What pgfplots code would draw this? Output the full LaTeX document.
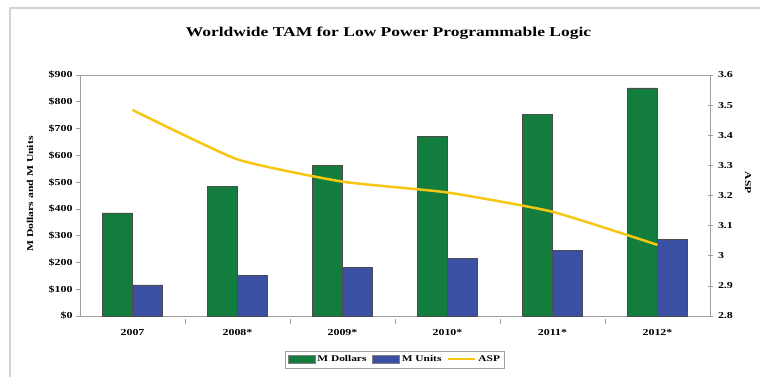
\documentclass[border=0pt]{standalone}
\usepackage{pgfplots}
\pgfplotsset{compat=1.18}
\usepackage{fontspec}
\setmainfont{Liberation Serif}[FakeStretch=1.3]
\definecolor{gbar}{HTML}{127D3C}
\definecolor{bbar}{HTML}{3B4FA3}
\definecolor{yline}{HTML}{F7C613}
\definecolor{axgray}{HTML}{A0A0A0}
\begin{document}
\begin{tikzpicture}
\useasboundingbox (-80bp,-61bp) rectangle (680bp,316bp);
\draw[gray!35, line width=1.2bp] (-70bp,-61bp) -- (-70bp,308bp) -- (680bp,308bp);
\begin{axis}[
  at={(0,0)}, anchor=south west,
  scale only axis, width=630bp, height=241bp,
  xmin=-0.5, xmax=5.5, ymin=0, ymax=900,
  axis line style={axgray, line width=0.8bp},
  xtick={0,1,2,3,4,5},
  xticklabels={2007,2008*,2009*,2010*,2011*,2012*},
  minor xtick={0.5,1.5,2.5,3.5,4.5},
  major x tick style={draw=none},
  minor tick length=5bp,
  ytick={0,100,...,900},
  yticklabels={\$0,\$100,\$200,\$300,\$400,\$500,\$600,\$700,\$800,\$900},
  ytick pos=left, xtick pos=bottom,
  tick align=outside, major tick length=4bp,
  tick style={axgray, line width=0.6bp},
  every minor tick/.style={axgray, line width=0.6bp, yshift=-2.5bp},
  ticklabel style={font=\bfseries\fontsize{9.2}{11}\selectfont},
  xticklabel style={yshift=-6bp},
  /pgf/number format/assume math mode=true,
  legend style={at={(0.5,0)}, yshift=-35bp, anchor=north, draw=axgray,
    font=\bfseries\fontsize{8.8}{10}\selectfont, legend columns=3,
    inner sep=2.5bp, /tikz/every even column/.append style={column sep=4bp}},
  legend cell align=left,
]
\addplot[ybar, bar width=30bp, bar shift=-15bp, fill=gbar, draw=black!70, line width=0.4bp,
  area legend, legend image code/.code={\draw[fill=gbar,draw=black!50,line width=0.4bp] (0bp,-3.5bp) rectangle (27bp,4bp);}]
  coordinates {(0,385) (1,483) (2,562) (3,672) (4,753) (5,852)};
\addlegendentry{M Dollars}
\addplot[ybar, bar width=30bp, bar shift=15bp, fill=bbar, draw=black!70, line width=0.4bp,
  area legend, legend image code/.code={\draw[fill=bbar,draw=black!50,line width=0.4bp] (0bp,-3.5bp) rectangle (27bp,4bp);}]
  coordinates {(0,116) (1,153) (2,182) (3,215) (4,244) (5,287)};
\addlegendentry{M Units}
\addlegendimage{legend image code/.code={\draw[draw=yline,line width=2bp] (0bp,0.3bp) -- (27bp,0.3bp);}}
\addlegendentry{ASP}
\end{axis}
\begin{axis}[
  at={(0,0)}, anchor=south west,
  scale only axis, width=630bp, height=241bp,
  xmin=-0.5, xmax=5.5, ymin=2.8, ymax=3.6,
  axis x line=none,
  axis y line*=right,
  axis line style={axgray, line width=0.8bp},
  ytick={2.8,2.9,...,3.61},
  yticklabel style={font=\bfseries\fontsize{9.2}{11}\selectfont, xshift=2bp},
  tick align=center, major tick length=5bp,
  tick style={axgray, line width=0.6bp},
  /pgf/number format/assume math mode=true,
  /pgf/number format/fixed,
]
\addplot[yline, line width=2.5bp, smooth, tension=0.3, line join=round]
  coordinates {(0,3.484) (1,3.32) (2,3.246) (3,3.21) (4,3.146) (5,3.036)};
\end{axis}
\node[font=\bfseries\fontsize{13.5}{16}\selectfont] at (308.5bp,283bp) {Worldwide TAM for Low Power Programmable Logic};
\node[font=\bfseries\fontsize{9}{10}\selectfont, rotate=90] at (-50bp,122bp) {M Dollars and M Units};
\node[font=\bfseries\fontsize{9}{10}\selectfont, rotate=-90] at (668bp,133bp) {ASP};
\end{tikzpicture}
\end{document}
